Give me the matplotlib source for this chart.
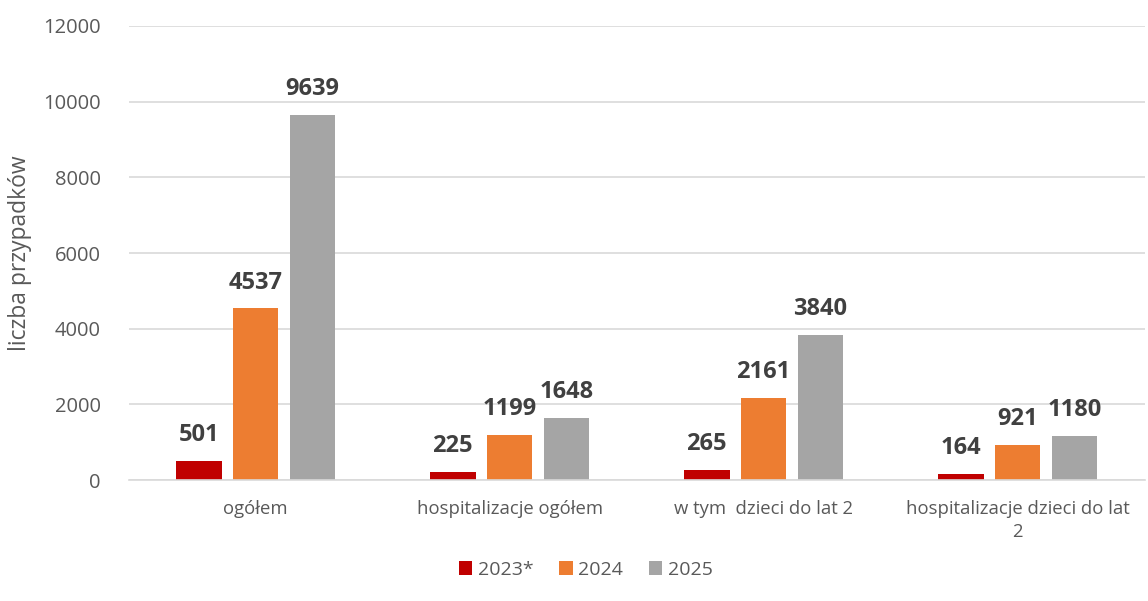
import numpy as np
import matplotlib
matplotlib.use('Agg')
import matplotlib.pyplot as plt

# dane
kategorie = ['ogółem', 'hospitalizacje ogółem', 'w tym  dzieci do lat 2', 'hospitalizacje dzieci do lat\n2']
serie = ['2023*', '2024', '2025']
v2023 = [501, 225, 265, 164]
v2024 = [4537, 1199, 2161, 921]
v2025 = [9639, 1648, 3840, 1180]
kolory = ['#C00000', '#ED7D31', '#A5A5A5']

plt.rcParams['font.family'] = ['Open Sans', 'DejaVu Sans']

fig = plt.figure(figsize=(11.48, 6.01), dpi=100)
ax = fig.add_axes([0.112, 0.201, 0.885, 0.756])

x = np.arange(len(kategorie))
w = 0.18
off = 0.224
for i, (vals, c) in enumerate(zip([v2023, v2024, v2025], kolory)):
    bars = ax.bar(x + (i - 1) * off, vals, width=w, color=c, label=serie[i], zorder=2)
    for b, v in zip(bars, vals):
        ax.annotate(str(v), (b.get_x() + b.get_width() / 2, v), xytext=(0, 10),
                    textcoords='offset points', ha='center', va='bottom',
                    fontsize=17, fontweight='bold', color='#404040')

ax.set_xlim(-0.5, len(kategorie) - 0.5)
ax.set_ylim(0, 12000)
ax.set_yticks(range(0, 12001, 2000))
ax.yaxis.grid(True, color='#D9D9D9', linewidth=1.2, zorder=0)
ax.set_axisbelow(True)
for s in ['top', 'right', 'left']:
    ax.spines[s].set_visible(False)
ax.spines['bottom'].set_color('#D9D9D9')
ax.spines['bottom'].set_linewidth(1.2)
ax.tick_params(axis='y', length=0, labelsize=14.5, colors='#595959', pad=20)
ax.tick_params(axis='x', length=0, labelsize=13.3, colors='#595959', pad=14)
ax.set_xticks(x)
ax.set_xticklabels(kategorie, linespacing=1.35)
ax.set_ylabel('liczba przypadków', fontsize=16.5, color='#595959', labelpad=8)

ax.legend(loc='lower center', bbox_to_anchor=(0.45, -0.255), ncol=3, frameon=False,
          fontsize=14, labelcolor='#595959', handlelength=0.7, handleheight=0.7,
          handletextpad=0.3, columnspacing=1.3)

plt.savefig('out.png', dpi=100)
